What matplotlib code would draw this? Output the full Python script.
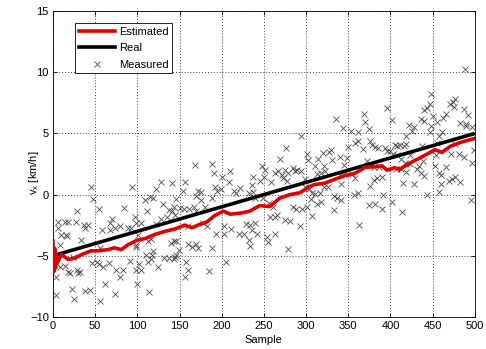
import matplotlib
matplotlib.use("Agg")
import matplotlib.pyplot as plt
from matplotlib.lines import Line2D

plt.rcParams['font.family'] = ['Liberation Sans', 'DejaVu Sans']
plt.rcParams['mathtext.fontset'] = 'custom'
plt.rcParams['mathtext.rm'] = 'Liberation Sans'
plt.rcParams['mathtext.it'] = 'Liberation Sans'

# Real velocity (straight ramp)
real_samples = [0, 500]
real_values = [-5.0, 5.0]

# Filter estimate
est_samples = [0, 1, 2, 3, 4, 5, 10, 18, 26, 34, 45, 53, 65, 73, 81, 89, 99,
               109, 121, 133, 145, 156, 165, 175, 182, 192, 202, 210, 222, 233,
               245, 257, 269, 281, 293, 304, 310, 322, 334, 346, 358, 370, 381,
               390, 396, 405, 411, 423, 435, 447, 453, 461, 471, 483, 500]
est_values = [-3.8, -6.3, -4.4, -6.0, -5.0, -5.6, -4.9, -5.3, -5.2, -4.9, -4.6,
              -4.6, -4.5, -4.35, -4.5, -4.1, -3.75, -3.6, -3.25, -3.0, -2.8,
              -2.5, -2.7, -2.4, -2.26, -1.7, -1.35, -1.6, -1.52, -1.36, -0.9,
              -0.98, -0.28, 0.0, 0.16, 0.65, 0.82, 0.93, 1.25, 1.55, 1.74, 2.23,
              2.28, 2.35, 2.0, 2.2, 2.07, 2.58, 3.0, 3.45, 3.67, 3.45, 3.95,
              4.27, 4.6]

# Noisy measurements
meas_samples = [
    45, 94, 47, 28, 54, 84, 6, 14, 18, 27, 70, 67, 6, 37, 41, 38, 58, 68, 73,
    79, 89, 93, 98, 10, 15, 17, 33, 8, 101, 56, 98, 24, 8, 14, 18, 20, 4, 28,
    32, 30, 46, 52, 55, 59, 66, 75, 79, 83, 91, 62, 22, 25, 4, 38, 44, 74, 56,
    100, 99, 99,
    168, 189, 191, 200, 128, 141, 156, 122, 154, 172, 175, 192, 195, 199, 109,
    115, 118, 112, 146, 170, 176, 188, 130, 137, 141, 143, 151, 155, 161, 167,
    170, 180, 97, 104, 135, 122, 128, 145, 160, 178, 183, 193, 113, 116, 140,
    144, 146, 160, 165, 169, 172, 189, 110, 117, 119, 102, 113, 116, 125, 132,
    138, 143, 145, 149, 146, 104, 158, 160, 157, 185, 114,
    294, 276, 301, 269, 248, 251, 210, 237, 263, 267, 271, 275, 279, 284, 287,
    289, 294, 209, 245, 250, 259, 273, 277, 299, 222, 217, 215, 236, 237, 232,
    240, 249, 256, 261, 257, 263, 266, 275, 281, 284, 288, 295, 301, 293, 203,
    211, 229, 233, 239, 236, 203, 220, 226, 232, 233, 242, 254, 255, 263, 279,
    205,
    396, 369, 370, 402, 336, 344, 353, 362, 374, 350, 358, 362, 368, 376, 378,
    382, 385, 393, 396, 400, 403, 314, 320, 327, 330, 310, 321, 331, 340, 348,
    345, 372, 381, 387, 302, 313, 318, 322, 340, 345, 354, 358, 299, 304, 307,
    311, 316, 321, 326, 341, 380, 384, 390, 306, 313, 318, 333, 337, 341, 357,
    362, 374, 382, 391, 333, 390, 402, 307, 363, 376,
    488, 448, 447, 443, 440, 477, 474, 471, 475, 451, 487, 492, 462, 466, 436,
    440, 422, 428, 426, 455, 448, 482, 489, 490, 497, 447, 458, 461, 419, 405,
    408, 411, 416, 418, 437, 455, 476, 499, 408, 413, 423, 417, 423, 434, 439,
    454, 472, 481, 487, 497, 407, 413, 418, 431, 436, 440, 453, 458, 460, 469,
    473, 466, 483, 415, 428, 460, 458, 414, 495, 443, 476,
]
meas_values = [
    0.65, 0.6, -0.35, -1.3, -1.14, -1.09, -2.2, -2.2, -2.2, -2.2, -2.0, -2.3,
    -2.7, -2.5, -2.5, -2.7, -2.9, -2.9, -2.7, -2.6, -2.7, -2.7, -2.3, -3.3,
    -3.3, -3.4, -3.7, -4.1, -3.3, -4.4, -4.3, -5.1, -5.9, -5.8, -6.3, -6.4,
    -6.7, -6.2, -6.3, -6.4, -5.6, -5.5, -5.7, -5.9, -5.6, -6.2, -6.7, -6.2,
    -5.4, -7.3, -7.7, -8.5, -8.2, -7.9, -7.8, -8.1, -8.7, -7.3, -6.2, -4.1,
    2.45, 2.5, 1.74, 1.4, 1.0, 0.94, 1.0, 0.44, 0.27, 0.33, 0.2, 0.6, 0.33,
    0.44, -0.44, -0.17, -0.3, -1.3, -0.35, -0.1, -0.44, -0.3, -0.76, -1.25,
    -1.3, -0.98, -1.1, -1.15, -1.2, -1.04, -1.3, -1.04, -1.8, -2.3, -1.8,
    -2.4, -2.0, -1.63, -2.6, -2.3, -2.56, -3.2, -3.76, -3.65, -3.97, -3.8,
    -3.8, -4.0, -4.3, -4.0, -4.35, -4.35, -4.95, -4.9, -4.6, -5.7, -5.55,
    -5.3, -5.9, -5.2, -5.2, -5.3, -5.1, -4.57, -4.9, -6.15, -5.55, -6.15,
    -6.75, -6.26, -7.94,
    4.8, 3.8, 3.3, 2.9, 2.3, 2.0, 1.9, 1.47, 1.74, 1.96, 1.57, 2.0, 1.8, 2.17,
    1.96, 2.0, 1.9, 1.0, 1.14, 1.47, 1.06, 1.36, 1.14, 1.25, 0.55, 0.16, 0.27,
    0.8, 0.22, 0.11, -0.28, -0.28, -0.65, -1.04, -1.85, -1.8, -1.63, -2.07,
    -2.18, -0.98, -1.14, -1.14, -1.04, -2.56, -2.56, -2.8, -2.4, -2.5, -2.3,
    -2.9, -3.26, -3.26, -3.26, -3.7, -4.2, -3.26, -3.5, -3.9, -3.26, -4.46,
    -5.5,
    7.1, 6.6, 5.9, 6.1, 6.15, 5.44, 5.17, 5.12, 5.33, 3.86, 4.2, 4.4, 3.7, 4.4,
    4.08, 3.92, 3.8, 3.8, 3.6, 3.54, 3.3, 2.94, 3.37, 3.5, 3.64, 2.35, 2.35,
    2.83, 3.05, 3.0, 2.45, 2.78, 2.23, 2.28, 2.83, 1.69, 1.74, 1.96, 1.63,
    1.69, 1.69, 1.36, 0.6, 0.44, 0.11, 0.05, 0.16, 0.6, 0.65, 0.87, 1.2, 1.36,
    1.42, -0.38, -0.76, -0.6, -0.11, -0.27, -0.44, -0.05, 0.16, -0.82, -0.76,
    -0.05, -1.25, -1.2, -0.6, -1.74, -2.5, 0.73,
    10.26, 8.2, 7.43, 7.1, 6.94, 7.8, 7.6, 7.37, 7.15, 6.45, 7.0, 6.5, 6.28,
    6.56, 6.18, 6.0, 5.68, 5.52, 5.2, 5.9, 5.6, 5.84, 5.74, 5.6, 5.5, 5.1,
    4.8, 5.1, 4.8, 4.06, 3.95, 4.06, 4.0, 4.1, 4.0, 4.2, 4.1, 3.67, 3.24, 2.9,
    3.2, 2.58, 2.47, 2.36, 2.74, 3.2, 3.3, 3.35, 3.08, 2.58, 2.07, 2.07, 1.85,
    2.07, 1.74, 1.52, 2.36, 1.74, 1.63, 1.09, 1.25, 2.25, 1.06, 0.95, 0.84,
    0.84, 0.19, -1.44, -0.46, -0.02, 1.47,
]

x_ticks = [0, 50, 100, 150, 200, 250, 300, 350, 400, 450, 500]
y_ticks = [-10, -5, 0, 5, 10, 15]

fig = plt.figure(figsize=(4.86, 3.49), dpi=100)
ax = fig.add_axes([0.109, 0.092, 0.868, 0.876])

ax.plot(meas_samples, meas_values, linestyle='none', marker='x',
        markersize=4.0, markeredgewidth=0.6, color='#4a4a4a', zorder=2)
ax.plot(real_samples, real_values, color='black', linewidth=2.6, zorder=3,
        solid_capstyle='butt')
ax.plot(est_samples, est_values, color='#e00000', linewidth=2.6, zorder=4,
        solid_joinstyle='round')

ax.set_xlim(0, 500)
ax.set_ylim(-10, 15)
ax.set_xticks(x_ticks)
ax.set_yticks(y_ticks)
ax.tick_params(direction='in', top=True, right=True, labelsize=8,
               length=3, width=0.6, pad=3)
ax.grid(True, linestyle=(0, (1, 2.5)), color='black', linewidth=0.6)
for s in ax.spines.values():
    s.set_linewidth(0.6)

ax.set_xlabel('Sample', fontsize=8, labelpad=3)
ax.set_ylabel(r'v$_{\rm x}$ [km/h]', fontsize=8)
ax.yaxis.set_label_coords(-0.028, 0.47)

handles = [
    Line2D([], [], color='#e00000', linewidth=2.6),
    Line2D([], [], color='black', linewidth=2.6),
    Line2D([], [], color='#4a4a4a', linestyle='none', marker='x',
           markersize=4.0, markeredgewidth=0.6),
]
leg = ax.legend(handles, ['Estimated', 'Real', 'Measured'], loc='upper left',
                bbox_to_anchor=(0.052, 0.962), borderaxespad=0, fontsize=8,
                fancybox=False, framealpha=1, edgecolor='black',
                handlelength=3.3, handletextpad=0.3, labelspacing=0.58,
                borderpad=0.35)
leg.get_frame().set_linewidth(0.6)

fig.savefig('out.png', dpi=100)
